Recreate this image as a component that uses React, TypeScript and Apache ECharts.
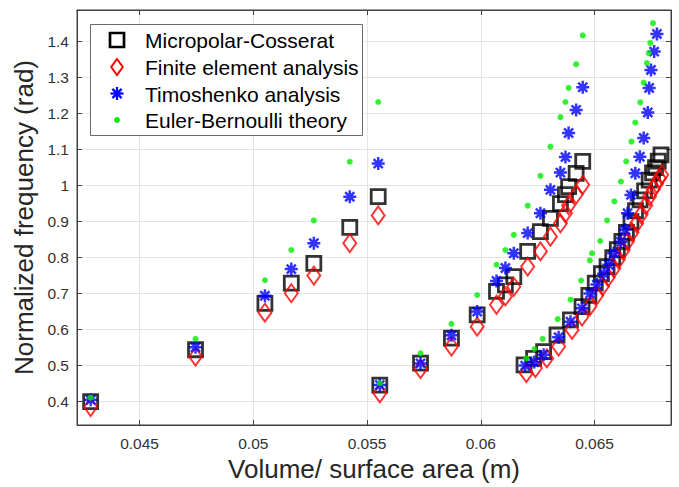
import React, { useEffect, useRef } from "react";
import * as echarts from "echarts";

const X_MIN = 0.04225;
const X_MAX = 0.06836;
const Y_MIN = 0.335;
const Y_MAX = 1.4875;

const xTicks = [0.045, 0.05, 0.055, 0.06, 0.065];
const yTicks = [0.4, 0.5, 0.6, 0.7, 0.8, 0.9, 1.0, 1.1, 1.2, 1.3, 1.4];

const seriesNames = [
  "Micropolar-Cosserat",
  "Finite element analysis",
  "Timoshenko analysis",
  "Euler-Bernoulli theory",
];

// Micropolar-Cosserat (black squares)
const cosseratA = [[0.04285, 0.4], [0.04746, 0.544], [0.05051, 0.673], [0.05167, 0.729], [0.05266, 0.784], [0.05424, 0.884], [0.05549, 0.969]];
const cosseratB = [[0.05556, 0.446], [0.05735, 0.507], [0.05871, 0.576], [0.05984, 0.641], [0.06069, 0.706], [0.06108, 0.724], [0.06145, 0.747], [0.06206, 0.817], [0.06262, 0.872], [0.06306, 0.909], [0.0635, 0.95], [0.06372, 0.975], [0.06386, 0.997], [0.06419, 1.034], [0.06448, 1.067]];
const cosseratC = [[0.0619, 0.502], [0.06232, 0.52], [0.06276, 0.539], [0.06335, 0.585], [0.06394, 0.627], [0.06445, 0.664], [0.06475, 0.695], [0.06503, 0.729], [0.0653, 0.755], [0.06555, 0.775], [0.0658, 0.8], [0.066, 0.822], [0.0662, 0.845], [0.0664, 0.87], [0.0666, 0.9], [0.0668, 0.93], [0.067, 0.96], [0.0672, 0.985], [0.0674, 1.015], [0.06755, 1.035], [0.06768, 1.05], [0.0678, 1.068], [0.06792, 1.085]];

// Finite element analysis (red diamonds)
const femA = [[0.04285, 0.385], [0.04746, 0.525], [0.05051, 0.647], [0.05167, 0.701], [0.05266, 0.75], [0.05424, 0.84], [0.05549, 0.917]];
const femB = [[0.05556, 0.423], [0.05735, 0.49], [0.05871, 0.553], [0.05984, 0.608], [0.06069, 0.669], [0.06108, 0.692], [0.06145, 0.719], [0.06206, 0.775], [0.06262, 0.817], [0.06306, 0.858], [0.0635, 0.895], [0.06372, 0.923], [0.06386, 0.945], [0.06419, 0.975], [0.06448, 1.002]];
const femC = [[0.062, 0.479], [0.0624, 0.493], [0.0629, 0.52], [0.06342, 0.553], [0.06401, 0.599], [0.06445, 0.636], [0.0648, 0.665], [0.0651, 0.695], [0.06535, 0.72], [0.0656, 0.745], [0.06585, 0.77], [0.06605, 0.795], [0.06625, 0.82], [0.06645, 0.845], [0.06665, 0.87], [0.06685, 0.895], [0.06705, 0.92], [0.06725, 0.945], [0.06742, 0.97], [0.06758, 0.99], [0.06772, 1.005], [0.06785, 1.02], [0.06795, 1.03]];

// Timoshenko analysis (blue asterisks)
const timoA = [[0.04285, 0.405], [0.04746, 0.551], [0.05051, 0.694], [0.05167, 0.768], [0.05266, 0.84], [0.05424, 0.969], [0.05549, 1.061]];
const timoB = [[0.05556, 0.446], [0.05735, 0.506], [0.05871, 0.584], [0.05984, 0.65], [0.06069, 0.735], [0.06108, 0.771], [0.06145, 0.812], [0.06206, 0.868], [0.06262, 0.923], [0.06306, 0.988], [0.0635, 1.036], [0.06372, 1.079], [0.06386, 1.146], [0.06419, 1.21], [0.06448, 1.273]];
const timoC = [[0.06195, 0.5], [0.06235, 0.51], [0.06276, 0.53], [0.06342, 0.579], [0.06394, 0.622], [0.06445, 0.659], [0.0648, 0.7], [0.0651, 0.725], [0.0654, 0.755], [0.06562, 0.78], [0.06584, 0.812], [0.06616, 0.844], [0.06635, 0.877], [0.06645, 0.923], [0.0666, 0.974], [0.06679, 1.034], [0.06699, 1.08], [0.06716, 1.132], [0.06734, 1.203], [0.0674, 1.271], [0.06748, 1.321], [0.06762, 1.372], [0.06774, 1.421]];

// Euler-Bernoulli theory (green dots)
const eulerA = [[0.04285, 0.411], [0.04746, 0.574], [0.05051, 0.737], [0.05167, 0.821], [0.05266, 0.903], [0.05424, 1.066], [0.05549, 1.232]];
const eulerB = [[0.05556, 0.451], [0.05735, 0.534], [0.05871, 0.616], [0.05984, 0.696], [0.06069, 0.78], [0.06108, 0.821], [0.06145, 0.863], [0.06206, 0.944], [0.06262, 1.027], [0.06306, 1.108], [0.0635, 1.19], [0.06372, 1.232], [0.06386, 1.271], [0.06419, 1.337], [0.06448, 1.417]];
const eulerC = [[0.062, 0.52], [0.06236, 0.546], [0.06272, 0.574], [0.06338, 0.629], [0.06394, 0.683], [0.06441, 0.736], [0.06479, 0.792], [0.06489, 0.812], [0.06525, 0.846], [0.06555, 0.903], [0.06587, 0.956], [0.06616, 1.011], [0.06639, 1.067], [0.06662, 1.122], [0.06679, 1.175], [0.06701, 1.231], [0.06716, 1.286], [0.0673, 1.34], [0.06738, 1.368], [0.06745, 1.396], [0.06757, 1.451]];

const SQUARE = "path://M0,0L10,0L10,10L0,10Z";
const DIAMOND = "path://M6.5,0L13,9L6.5,18L0,9Z";
const ASTERISK = "path://M10,0L10,20M0,10L20,10M3,3L17,17M3,17L17,3";

const FONT = "'Liberation Sans', Arial, Helvetica, sans-serif";
const AXC = "#404040";

export default function App() {
  const ref = useRef<HTMLDivElement>(null);
  useEffect(() => {
    document.body.style.margin = "0";
    if (!ref.current) return;
    const chart = echarts.init(ref.current, undefined, { renderer: "svg" });

    const rows = [40, 67, 93.5, 120];
    const IX = 117;
    const TX = 145;
    const legendTexts = seriesNames.map((n, i) => ({
      type: "text", z: 5, x: TX, y: rows[i] + 0.5,
      style: { text: n, fontSize: 21, fontFamily: FONT, fill: "#000", verticalAlign: "middle", align: "left" },
    }));
    const a = 6.5, d = 4.6;
    const legendIcons = [
      {
        type: "rect", z: 5,
        shape: { x: IX - 7, y: rows[0] - 7, width: 14, height: 14 },
        style: { fill: "none", stroke: "#000", lineWidth: 2.7 },
      },
      {
        type: "polygon", z: 5,
        shape: { points: [[IX, rows[1] - 8], [IX + 5.8, rows[1]], [IX, rows[1] + 8], [IX - 5.8, rows[1]]] },
        style: { fill: "none", stroke: "#ff0000", lineWidth: 2 },
      },
      {
        type: "group", z: 5,
        children: [
          [IX, rows[2] - a, IX, rows[2] + a],
          [IX - a, rows[2], IX + a, rows[2]],
          [IX - d, rows[2] - d, IX + d, rows[2] + d],
          [IX - d, rows[2] + d, IX + d, rows[2] - d],
        ].map((s) => ({
          type: "line", z: 5,
          shape: { x1: s[0], y1: s[1], x2: s[2], y2: s[3] },
          style: { stroke: "#0000ff", lineWidth: 2.3 },
        })),
      },
      {
        type: "circle", z: 5,
        shape: { cx: IX, cy: rows[3], r: 2.9 },
        style: { fill: "#00ee00" },
      },
    ];

    const option: any = {
      animation: false,
      backgroundColor: "#fff",
      grid: {
        left: 77, right: 8, top: 10, bottom: 62,
        show: true, borderColor: AXC, borderWidth: 1, backgroundColor: "#fff",
      },
      xAxis: [
        {
          type: "value", min: X_MIN, max: X_MAX, position: "bottom", splitNumber: 5,
          name: "Volume/ surface area (m)", nameLocation: "middle", nameGap: 30,
          nameTextStyle: { fontSize: 26, fontFamily: FONT, color: "#262626" },
          axisLine: { show: true, lineStyle: { color: AXC } },
          axisTick: { show: true, inside: true, length: 5, customValues: xTicks, lineStyle: { color: AXC } },
          axisLabel: {
            customValues: xTicks, margin: 10, fontSize: 15.5, fontFamily: FONT, color: "#333",
            formatter: (v: number) => String(parseFloat(v.toFixed(3))),
          },
          splitLine: { show: true, lineStyle: { color: "#e4e4e4", width: 1 } },
        },
        {
          type: "value", min: X_MIN, max: X_MAX, position: "top", splitNumber: 5,
          axisLine: { show: true, lineStyle: { color: AXC } },
          axisTick: { show: true, inside: true, length: 5, customValues: xTicks, lineStyle: { color: AXC } },
          axisLabel: { show: false },
          splitLine: { show: false },
        },
      ],
      yAxis: [
        {
          type: "value", min: Y_MIN, max: Y_MAX, position: "left", splitNumber: 11,
          name: "Normalized frequency (rad)", nameLocation: "middle", nameGap: 36,
          nameTextStyle: { fontSize: 26, fontFamily: FONT, color: "#262626" },
          axisLine: { show: true, lineStyle: { color: AXC } },
          axisTick: { show: true, inside: true, length: 5, customValues: yTicks, lineStyle: { color: AXC } },
          axisLabel: {
            customValues: yTicks, margin: 8, fontSize: 15.5, fontFamily: FONT, color: "#333",
            formatter: (v: number) => String(parseFloat(v.toFixed(1))),
          },
          splitLine: { show: true, lineStyle: { color: "#e4e4e4", width: 1 } },
        },
        {
          type: "value", min: Y_MIN, max: Y_MAX, position: "right", splitNumber: 11,
          axisLine: { show: true, lineStyle: { color: AXC } },
          axisTick: { show: true, inside: true, length: 5, customValues: yTicks, lineStyle: { color: AXC } },
          axisLabel: { show: false },
          splitLine: { show: false },
        },
      ],
      graphic: [
        {
          type: "rect", z: 3,
          shape: { x: 90.5, y: 24.5, width: 272, height: 111 },
          style: { fill: "#fff", stroke: "#6a6a6a", lineWidth: 1 },
        },
        ...legendIcons,
        ...legendTexts,
      ],
      series: [
        {
          type: "scatter", name: seriesNames[0], xAxisIndex: 0, yAxisIndex: 0, silent: true,
          data: [...cosseratA, ...cosseratB, ...cosseratC],
          symbol: SQUARE, symbolSize: 14,
          itemStyle: { color: "rgba(0,0,0,0)", borderColor: "#000", borderWidth: 2.8 },
        },
        {
          type: "scatter", name: seriesNames[1], xAxisIndex: 0, yAxisIndex: 0, silent: true,
          data: [...femA, ...femB, ...femC],
          symbol: DIAMOND, symbolSize: [13, 18],
          itemStyle: { color: "rgba(0,0,0,0)", borderColor: "#ff0000", borderWidth: 2 },
        },
        {
          type: "scatter", name: seriesNames[2], xAxisIndex: 0, yAxisIndex: 0, silent: true,
          data: [...timoA, ...timoB, ...timoC],
          symbol: ASTERISK, symbolSize: 13,
          itemStyle: { color: "rgba(0,0,0,0)", borderColor: "#0000ff", borderWidth: 2.5 },
        },
        {
          type: "scatter", name: seriesNames[3], xAxisIndex: 0, yAxisIndex: 0, silent: true,
          data: [...eulerA, ...eulerB, ...eulerC],
          symbol: "circle", symbolSize: 6,
          itemStyle: { color: "#00ee00", borderWidth: 0 },
        },
      ],
    };
    chart.setOption(option);
    return () => chart.dispose();
  }, []);
  return <div ref={ref} style={{ width: 679, height: 487 }} />;
}
